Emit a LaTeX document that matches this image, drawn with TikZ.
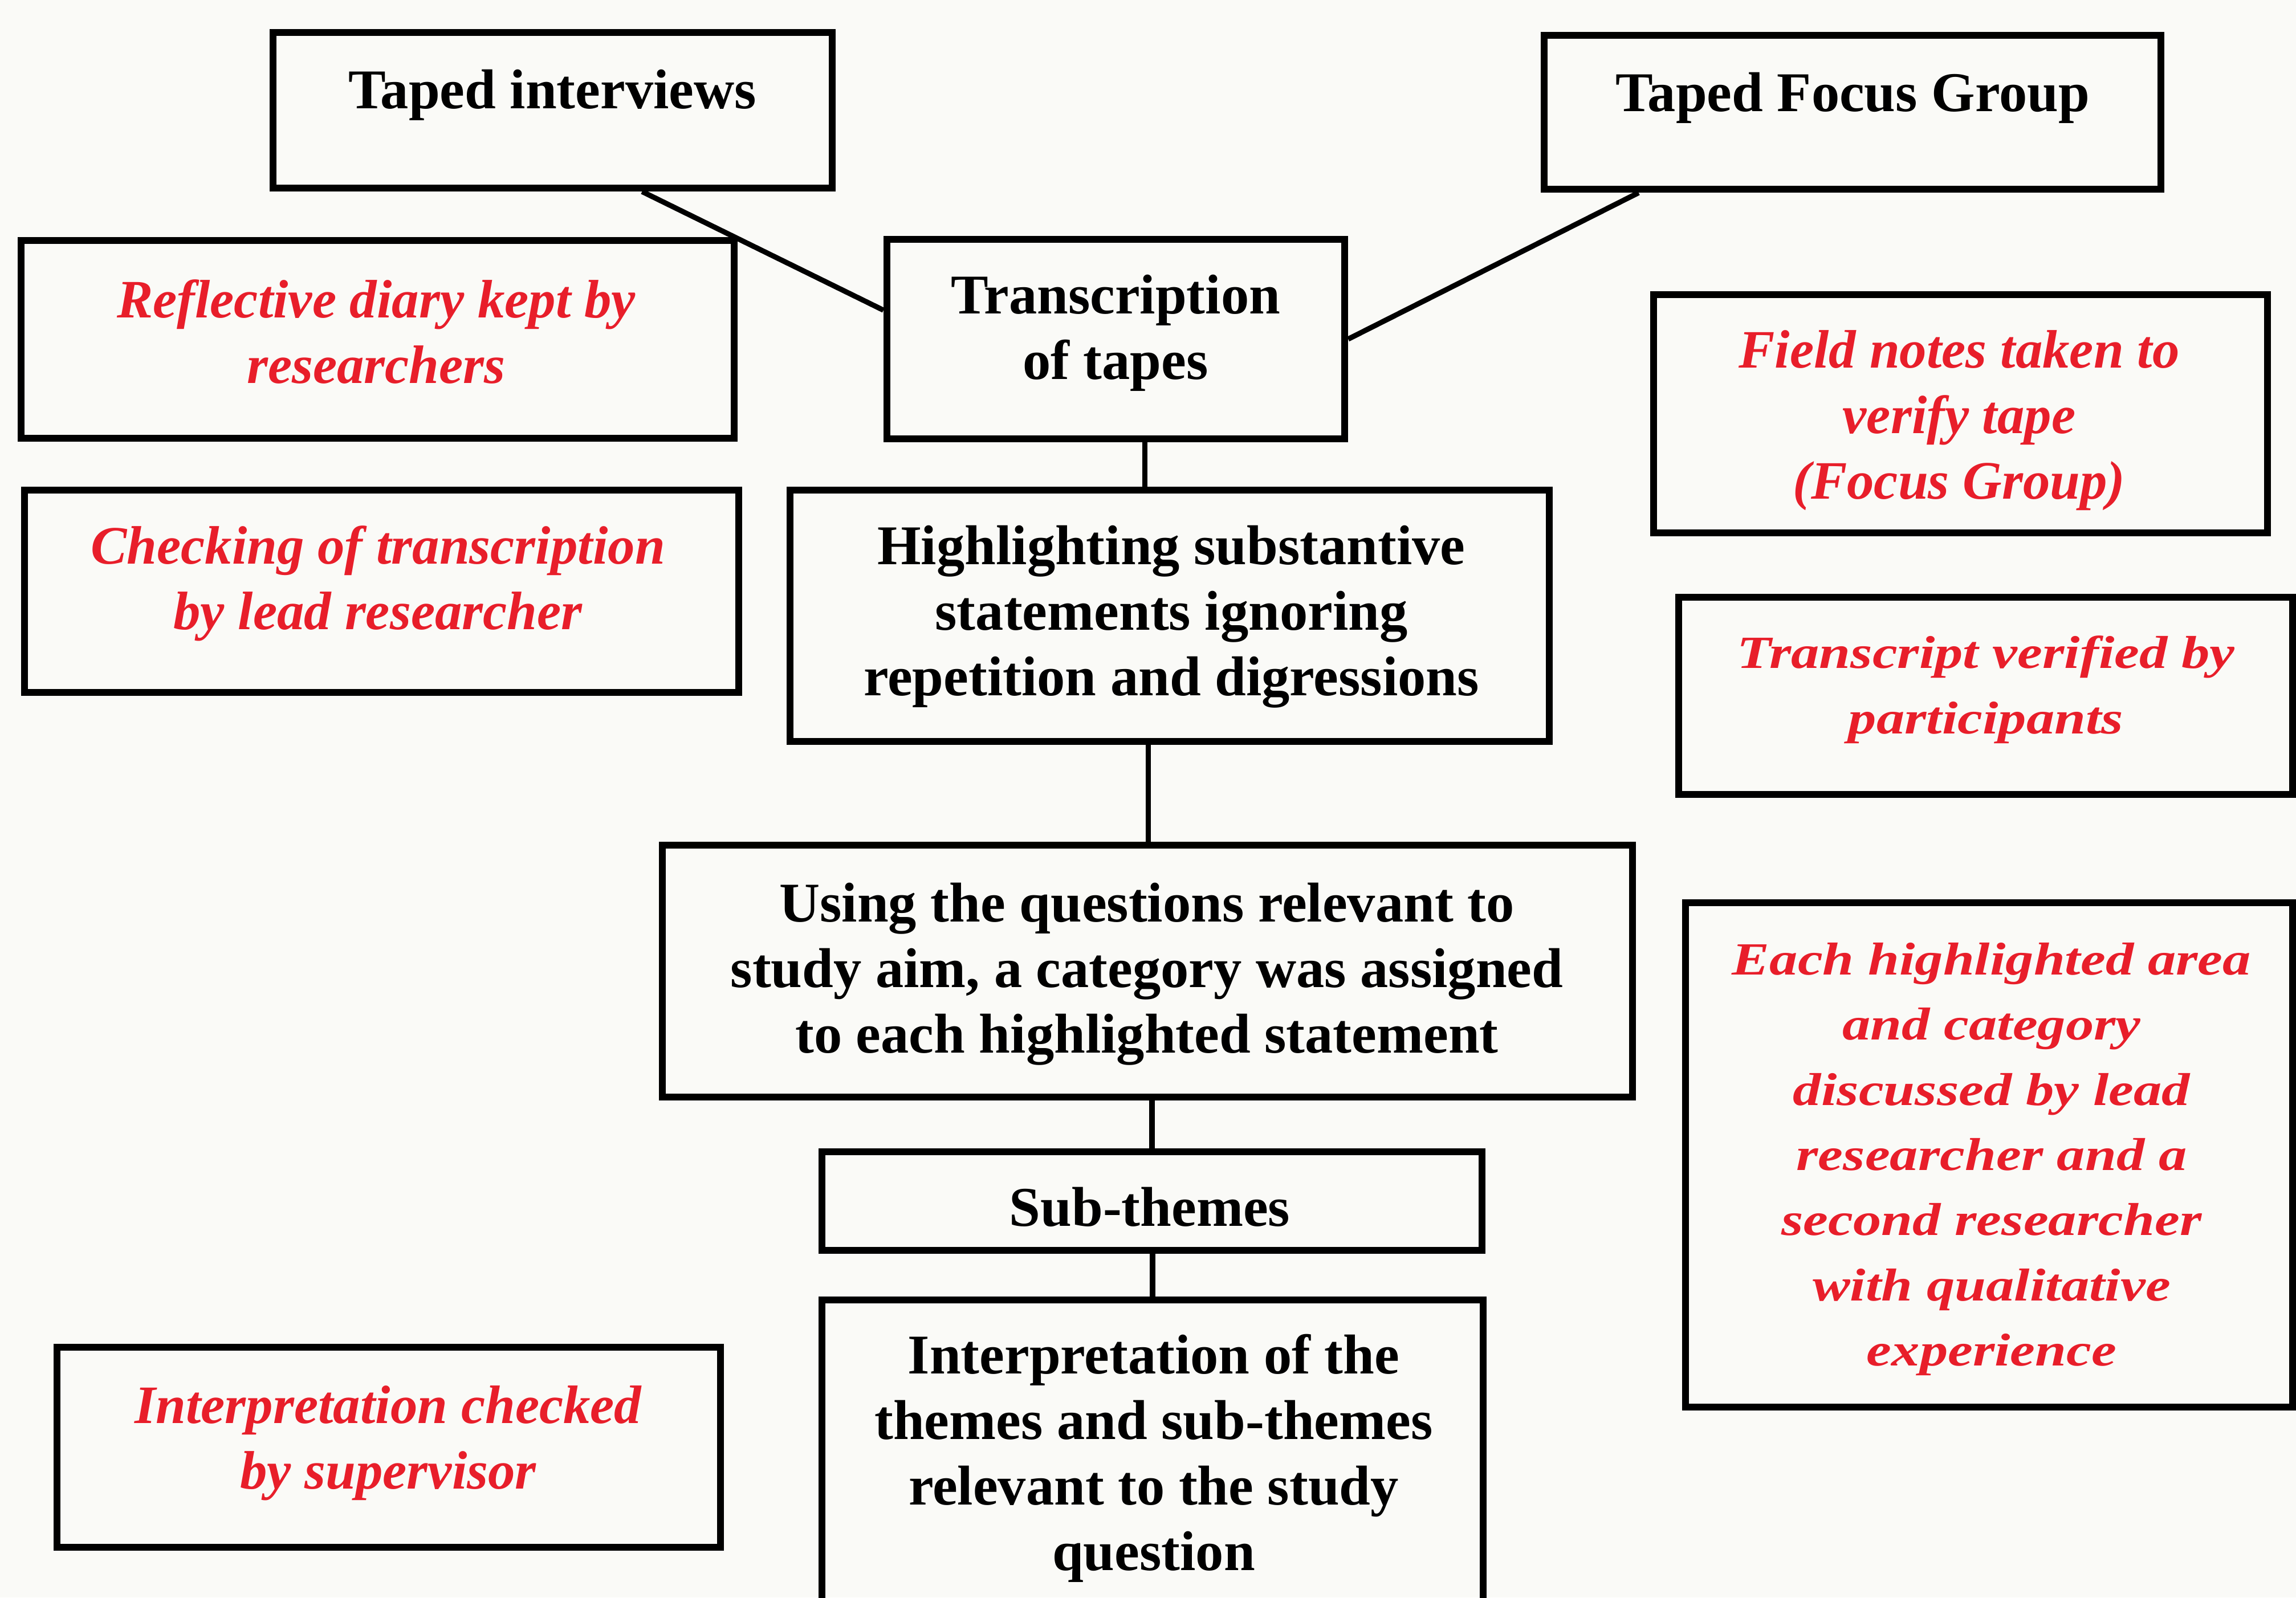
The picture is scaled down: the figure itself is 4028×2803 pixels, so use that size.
\documentclass[tikz,border=0pt]{standalone}
\usepackage{fontspec}
\setmainfont{Liberation Serif}
\newfontfamily\widefont[FakeStretch=1.22]{Liberation Serif}
\usetikzlibrary{fit,calc}
\definecolor{notered}{RGB}{232,30,42}
\definecolor{paper}{RGB}{250,250,247}
\begin{document}
\begin{tikzpicture}[x=0.01cm,y=-0.01cm,
  box/.style={draw=black, line width=3.5pt, inner sep=0pt},
  conn/.style={draw=black, line width=2.6pt},
  stepText/.style={font=\fontsize{28pt}{32.7pt}\selectfont\bfseries, align=center, inner sep=0pt, text=black},
  noteText/.style={font=\fontsize{27pt}{32.7pt}\selectfont\bfseries\itshape, align=center, inner sep=0pt, text=notered},
  wideNote/.style={font=\widefont\fontsize{23pt}{32.5pt}\selectfont\bfseries\itshape, align=center, inner sep=0pt, text=notered}]
\useasboundingbox (0,0) rectangle (4028,2803);
\clip (0,0) rectangle (4028,2803);
\fill[paper] (0,0) rectangle (4028,2803);

% main flow boxes
\node[box, fit={(479,57) (1460,330)}] (ti) {};
\node[box, fit={(2709,62) (3791,332)}] (tfg) {};
\node[box, fit={(1556,420) (2359,770)}] (tr) {};
\node[box, fit={(1386,860) (2718,1301)}] (hl) {};
\node[box, fit={(1162,1483) (2864,1925)}] (us) {};
\node[box, fit={(1442,2021) (2600,2194)}] (st) {};
\node[box, fit={(1442,2281) (2602,2900)}] (it) {};

% verification notes
\node[box, fit={(37,422) (1288,769)}] (rd) {};
\node[box, fit={(43,860) (1296,1215)}] (ck) {};
\node[box, fit={(100,2364) (1264,2715)}] (ic) {};
\node[box, fit={(2901,517) (3978,935)}] (fn) {};
\node[box, fit={(2945,1048) (4022,1394)}] (tv) {};
\node[box, fit={(2957,1584) (4022,2469)}] (eh) {};

% texts
\node[stepText] (ti-t) at (969,167) {Taped interviews};
\node[stepText] (tfg-t) at (3250,172) {Taped Focus Group};
\node[stepText] (tr-t) at (1957,584) {Transcription\\of tapes};
\node[stepText] (hl-t) at (2055,1082) {Highlighting substantive\\statements ignoring\\repetition and digressions};
\node[stepText] (us-t) at (2012,1709) {Using the questions relevant to\\study aim, a category was assigned\\to each highlighted statement};
\node[stepText] (st-t) at (2017,2118) {Sub-themes};
\node[stepText] (it-t) at (2024,2559) {Interpretation of the\\themes and sub-themes\\relevant to the study\\question};

\node[noteText] (rd-t) at (660,582) {Reflective diary kept by\\researchers};
\node[noteText] (ck-t) at (663,1024) {Checking of transcription\\by lead researcher};
\node[noteText] (ic-t) at (681,2532) {Interpretation checked\\by supervisor};
\node[noteText] (fn-t) at (3437,738) {Field notes taken to\\verify tape\\(Focus Group)};
\node[wideNote] (tv-t) at (3484,1210) {Transcript verified by\\participants};
\node[wideNote] (eh-t) at (3494,2034) {Each highlighted area\\and category\\discussed by lead\\researcher and a\\second researcher\\with qualitative\\experience};

% connectors
\draw[conn] ($(ti.south west)!0.658!(ti.south east)$) -- ($(tr.north west)!0.36!(tr.south west)$);
\draw[conn] ($(tfg.south west)!0.157!(tfg.south east)$) -- (tr.east);
\coordinate (trOut) at ($(tr.south west)!0.563!(tr.south east)$);
\draw[conn] (trOut) -- (trOut |- hl.north);
\coordinate (hlOut) at ($(hl.south west)!0.472!(hl.south east)$);
\draw[conn] (hlOut) -- (hlOut |- us.north);
\draw[conn] (st.north) -- (st.north |- us.south);
\draw[conn] (it.north) -- (it.north |- st.south);
\end{tikzpicture}
\end{document}
